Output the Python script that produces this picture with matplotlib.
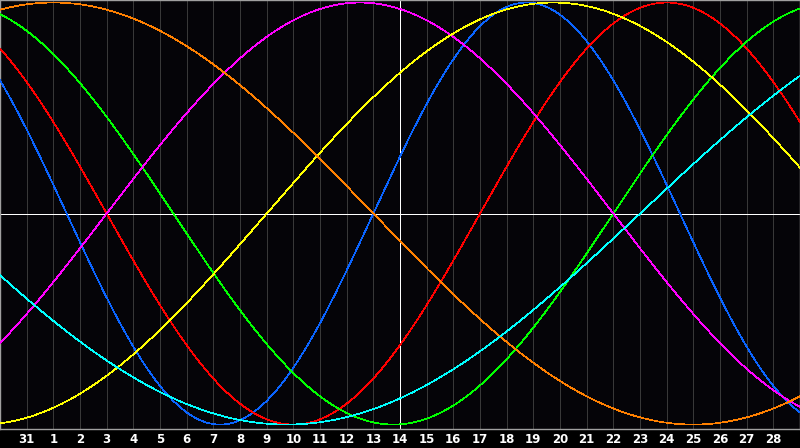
import numpy as np
import matplotlib
matplotlib.use("Agg")
import matplotlib.pyplot as plt

# Биоритмы: дни с рождения на первый столбец графика (30 января)
days_alive = 36970
n_days = 30
today = 15  # индекс текущего дня (14 февраля)

# периоды циклов и их цвета
periods = [23, 28, 33, 38, 43, 48, 53]
colors = ["#0a64ff", "#ff0000", "#00ff00", "#ff00ff", "#ffff00", "#ff8000", "#00ffff"]

# подписи дней под сеткой
day_labels = ["31"] + [str(d) for d in range(1, 29)]

fig = plt.figure(figsize=(8.0, 4.48), dpi=100, facecolor="black")
ax = fig.add_axes([0, 19 / 448, 1, 429 / 448])
ax.set_facecolor("#050408")

x = np.linspace(0, n_days, 1201)
for p, c in zip(periods, colors):
    y = np.sin(2 * np.pi * (days_alive + x) / p)
    ax.plot(x, y, color=c, lw=0.5, antialiased=False, zorder=3)

# сетка
for i in range(1, n_days):
    ax.axvline(i, color="#383838", lw=0.68, antialiased=False, zorder=1)
ax.axhline(0, color="white", lw=0.68, antialiased=False, zorder=2)
ax.axvline(today, color="white", lw=0.68, antialiased=False, zorder=2)

ax.set_xlim(0, n_days)
ax.set_ylim(-1.021, 1.012)
ax.set_xticks([])
ax.set_yticks([])
for s in ax.spines.values():
    s.set_color("#a0a0a0")
    s.set_linewidth(1.0)

trans = ax.get_xaxis_transform()
for i, lab in enumerate(day_labels, start=1):
    ax.text(i, -10 / 429, lab, transform=trans, ha="center", va="center",
            color="white", fontsize=8.5, fontweight="bold", family="DejaVu Sans")

fig.savefig("out.png", dpi=100, facecolor="black")
